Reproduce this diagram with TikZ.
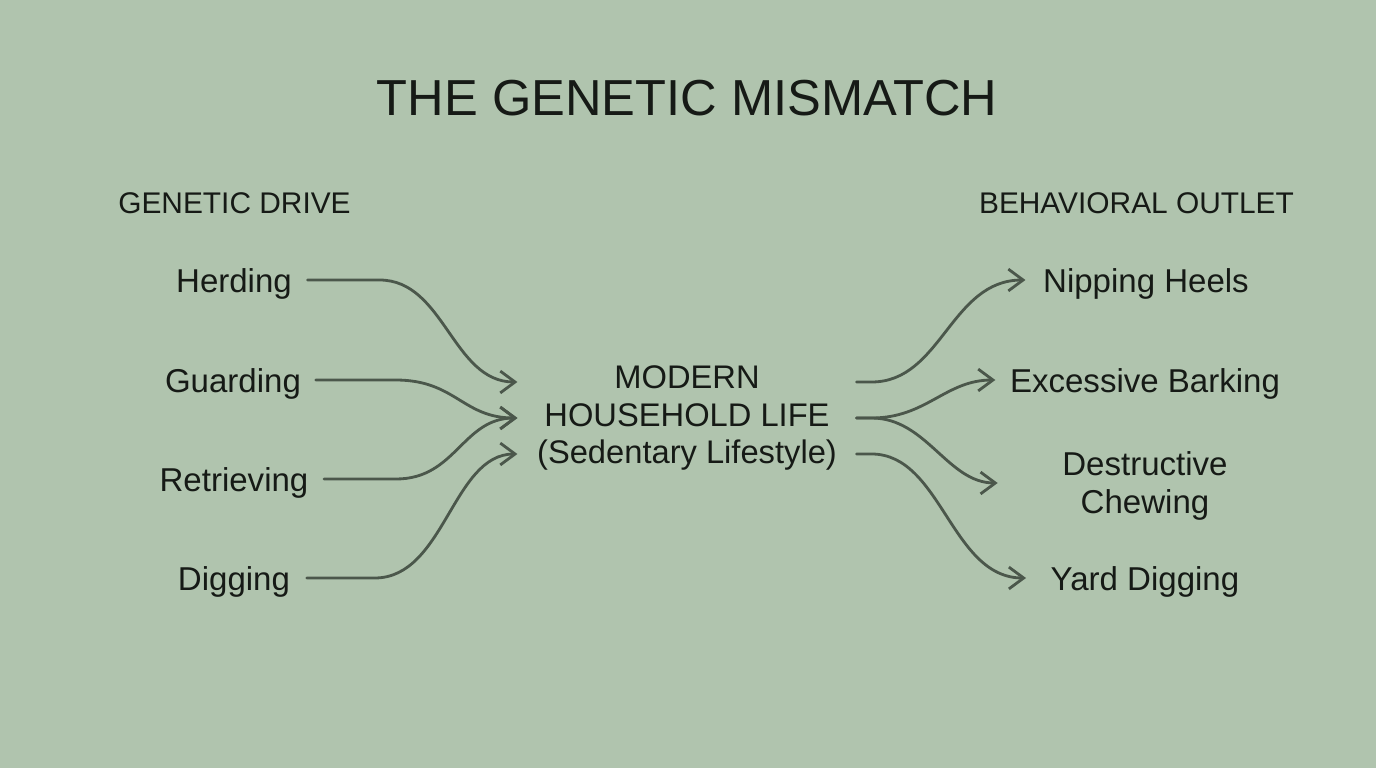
\documentclass[tikz,border=0pt]{standalone}
\usepackage{fontspec}
\setmainfont{Liberation Sans}
\usepackage{xcolor}
\usetikzlibrary{arrows.meta,positioning}
\definecolor{mismatchbg}{HTML}{B0C4AE}
\definecolor{mismatchink}{HTML}{161A16}
\definecolor{mismatchline}{HTML}{4B574B}
\tikzset{
  titletext/.style={font=\fontsize{14.4}{17}\selectfont, text=mismatchink, inner sep=0pt},
  headtext/.style={font=\fontsize{8.5}{10}\selectfont, text=mismatchink, inner sep=0pt, anchor=base},
  drivetext/.style={font=\fontsize{9.4}{10.5}\selectfont, text=mismatchink, inner sep=0pt, anchor=base},
  lifetext/.style={font=\fontsize{9.3}{10.7}\selectfont, text=mismatchink, inner sep=0pt, align=center},
  flow/.style={-{Straight Barb[length=4.2pt,width=6.2pt]}, line width=0.8pt, draw=mismatchline, line cap=round}
}
\begin{document}
\begin{tikzpicture}
  \fill[mismatchbg] (0,0) rectangle (13.76,-7.68);
  \node[titletext] (title) at (6.87,-0.98) {THE GENETIC MISMATCH};
  \node[headtext] (drivehead) at (2.345,-2.13) {GENETIC DRIVE};
  \node[headtext] (outlethead) at (11.365,-2.13) {BEHAVIORAL OUTLET};
  % genetic drives
  \node[drivetext] (herding) at (2.34,-2.92) {Herding};
  \node[drivetext] (guarding) at (2.33,-3.92) {Guarding};
  \node[drivetext] (retrieving) at (2.34,-4.91) {Retrieving};
  \node[drivetext] (digging) at (2.34,-5.90) {Digging};
  % the household in the middle
  \node[lifetext] (household) at (6.87,-4.18) {MODERN\\HOUSEHOLD LIFE\\(Sedentary Lifestyle)};
  % behavioral outlets
  \node[drivetext] (nipping) at (11.46,-2.92) {Nipping Heels};
  \node[drivetext] (barking) at (11.45,-3.92) {Excessive Barking};
  \node[lifetext, font=\fontsize{9.4}{10.7}\selectfont] (chewing) at (11.45,-4.86) {Destructive\\Chewing};
  \node[drivetext] (yarddig) at (11.45,-5.90) {Yard Digging};
  % drives into the household
  \draw[flow] ([shift={(0.15,0.12)}]herding.base east) -- ++(0.72,0)
    .. controls +(0.65,0) and +(-0.65,0) .. ([shift={(-0.19,0.36)}]household.west);
  \draw[flow] ([shift={(0.14,0.12)}]guarding.base east) -- ++(0.8,0)
    .. controls +(0.6,0) and +(-0.55,0) .. ([xshift=-0.19cm]household.west);
  \draw[flow] ([shift={(0.15,0.12)}]retrieving.base east) -- ++(0.72,0)
    .. controls +(0.6,0) and +(-0.55,0) .. ([xshift=-0.19cm]household.west);
  \draw[flow] ([shift={(0.16,0.12)}]digging.base east) -- ++(0.68,0)
    .. controls +(0.7,0) and +(-0.65,0) .. ([shift={(-0.19,-0.36)}]household.west);
  % household out to the outlets
  \draw[flow] ([shift={(0.19,0.36)}]household.east) -- ++(0.15,0)
    .. controls +(0.7,0) and +(-0.75,0) .. ([shift={(-0.17,0.12)}]nipping.base west);
  \draw[flow] ([xshift=0.19cm]household.east) -- ++(0.15,0)
    .. controls +(0.55,0) and +(-0.5,0) .. ([shift={(-0.14,0.12)}]barking.base west);
  \draw[flow] ([xshift=0.19cm]household.east) -- ++(0.15,0)
    .. controls +(0.55,0) and +(-0.5,0) .. ([shift={(-0.64,0.03)}]chewing.west);
  \draw[flow] ([shift={(0.19,-0.36)}]household.east) -- ++(0.15,0)
    .. controls +(0.7,0) and +(-0.75,0) .. ([shift={(-0.24,0.12)}]yarddig.base west);
\end{tikzpicture}
\end{document}
